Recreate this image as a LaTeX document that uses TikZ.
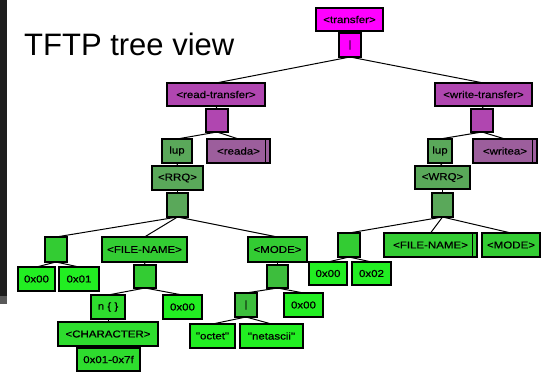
\documentclass[tikz,border=0pt]{standalone}
\usepackage{fontspec}
\newfontfamily\labfont[FakeStretch=1.15,FakeBold=0.6]{Liberation Sans}
\newfontfamily\ttlfont{Liberation Sans}
\definecolor{cMag}{HTML}{FF00FF}
\definecolor{cPur}{HTML}{B046B0}
\definecolor{cMauve}{HTML}{9C5E9C}
\definecolor{gA}{HTML}{5AA85A}
\definecolor{gB}{HTML}{33CC33}
\definecolor{gC}{HTML}{3DBE3D}
\definecolor{gD}{HTML}{2EDC2E}
\definecolor{gLeaf}{HTML}{22EE22}
\definecolor{strip}{HTML}{1E1E1E}
\tikzset{
  box/.style={draw=black, line width=1.2pt, inner sep=0pt, outer sep=0pt,
    font=\labfont\fontsize{10}{10}\selectfont, text=black},
  conn/.style={draw=black, line width=1pt},
  dbl/.style={draw=black, line width=0.8pt}
}
\newcommand\bx[7]{%
  \node[box, fill=#6, minimum width={(#4-#2)*1pt}, minimum height={(#5-#3)*1pt}]
    (#1) at ({(#2+#4)/2},{(#3+#5)/2}) {#7};}
\begin{document}
\begin{tikzpicture}[x=1pt,y=-1pt]
\useasboundingbox (0,0) rectangle (541,372);
\fill[white] (0,0) rectangle (541,372);
\fill[strip] (0,0) rectangle (7,296);
\fill[gray!70!black] (0,296) rectangle (7,304);
\node[anchor=base west, inner sep=0pt, font=\ttlfont\fontsize{31}{32}\selectfont] (title) at (24,55) {TFTP tree view};
% top
\bx{transfer}{316}{8}{383}{31}{cMag}{<transfer>}
\bx{bar1}{339}{33}{361}{57}{cMag}{|}
\bx{readT}{167}{83}{265}{106}{cPur}{<read-transfer>}
\bx{writeT}{435}{83}{532}{106}{cPur}{<write-transfer>}
\bx{rsq}{206}{109}{228}{132}{cPur}{}
\bx{wsq}{471}{109}{493}{132}{cPur}{}
\bx{lupR}{162}{139}{192}{163}{gA}{lup}
\bx{reada}{207}{139}{270}{163}{cMauve}{<reada>\hspace{4pt}}
\bx{lupW}{428}{139}{452}{163}{gA}{lup}
\bx{writea}{473}{139}{537}{163}{cMauve}{<writea>\hspace{4pt}}
\bx{RRQ}{152}{166}{203}{190}{gA}{<RRQ>}
\bx{WRQ}{415}{166}{470}{189}{gA}{<WRQ>}
\bx{rrqsq}{167}{193}{188}{217}{gA}{}
\bx{wrqsq}{432}{193}{453}{217}{gA}{}
% left subtree
\bx{lsq}{45}{237}{67}{262}{gB}{}
\bx{lfn}{102}{237}{187}{262}{gB}{<FILE-NAME>}
\bx{lmode}{248}{237}{307}{262}{gB}{<MODE>}
\bx{lzero}{18}{267}{55}{291}{gLeaf}{0x00}
\bx{lone}{59}{267}{99}{291}{gLeaf}{0x01}
\bx{fnsq}{134}{265}{156}{288}{gB}{}
\bx{nbr}{91}{295}{125}{319}{gD}{n \{ \}}
\bx{fnzero}{163}{295}{202}{319}{gLeaf}{0x00}
\bx{chr}{58}{322}{158}{346}{gD}{<CHARACTER>}
\bx{rng}{77}{348}{140}{371}{gD}{0x01-0x7f}
\bx{mosq}{267}{265}{288}{288}{gC}{}
\bx{mbar}{235}{293}{257}{317}{gC}{|}
\bx{mozero}{284}{293}{323}{317}{gLeaf}{0x00}
\bx{octet}{190}{324}{235}{348}{gLeaf}{"octet"}
\bx{netascii}{240}{324}{303}{348}{gLeaf}{"netascii"}
% right subtree
\bx{rsqb}{338}{233}{360}{257}{gB}{}
\bx{rfn}{384}{233}{477}{257}{gB}{<FILE-NAME>\hspace{4pt}}
\bx{rmode}{482}{233}{540}{257}{gB}{<MODE>}
\bx{rzero}{309}{262}{347}{285}{gLeaf}{0x00}
\bx{rtwo}{352}{262}{391}{285}{gLeaf}{0x02}
% double right edges
\draw[dbl] ([xshift=-5pt]reada.north east) -- ([xshift=-5pt]reada.south east);
\draw[dbl] ([xshift=-5pt]writea.north east) -- ([xshift=-5pt]writea.south east);
\draw[dbl] ([xshift=-5pt]rfn.north east) -- ([xshift=-5pt]rfn.south east);
% connectors
\draw[conn] (transfer.south) -- (bar1.north);
\draw[conn] (bar1.south) -- (readT.north);
\draw[conn] (bar1.south) -- (writeT.north);
\draw[conn] (readT.south) -- (rsq.north);
\draw[conn] (writeT.south) -- (wsq.north);
\draw[conn] (rsq.south) -- (lupR.north);
\draw[conn] (rsq.south) -- (reada.north);
\draw[conn] (wsq.south) -- (lupW.north);
\draw[conn] (wsq.south) -- (writea.north);
\draw[conn] (lupR.south) -- (RRQ.north);
\draw[conn] (lupW.south) -- (WRQ.north);
\draw[conn] (RRQ.south) -- (rrqsq.north);
\draw[conn] (WRQ.south) -- (wrqsq.north);
\draw[conn] (rrqsq.south) -- (lsq.north);
\draw[conn] (rrqsq.south) -- (lfn.north);
\draw[conn] (rrqsq.south) -- (lmode.north);
\draw[conn] (lsq.south) -- (lzero.north);
\draw[conn] (lsq.south) -- (lone.north);
\draw[conn] (lfn.south) -- (fnsq.north);
\draw[conn] (fnsq.south) -- (nbr.north);
\draw[conn] (fnsq.south) -- (fnzero.north);
\draw[conn] (nbr.south) -- (chr.north);
\draw[conn] (chr.south) -- (rng.north);
\draw[conn] (lmode.south) -- (mosq.north);
\draw[conn] (mosq.south) -- (mbar.north);
\draw[conn] (mosq.south) -- (mozero.north);
\draw[conn] (mbar.south) -- (octet.north);
\draw[conn] (mbar.south) -- (netascii.north);
\draw[conn] (wrqsq.south) -- (rsqb.north);
\draw[conn] (wrqsq.south) -- (rfn.north);
\draw[conn] (wrqsq.south) -- (rmode.north);
\draw[conn] (rsqb.south) -- (rzero.north);
\draw[conn] (rsqb.south) -- (rtwo.north);
\end{tikzpicture}
\end{document}
